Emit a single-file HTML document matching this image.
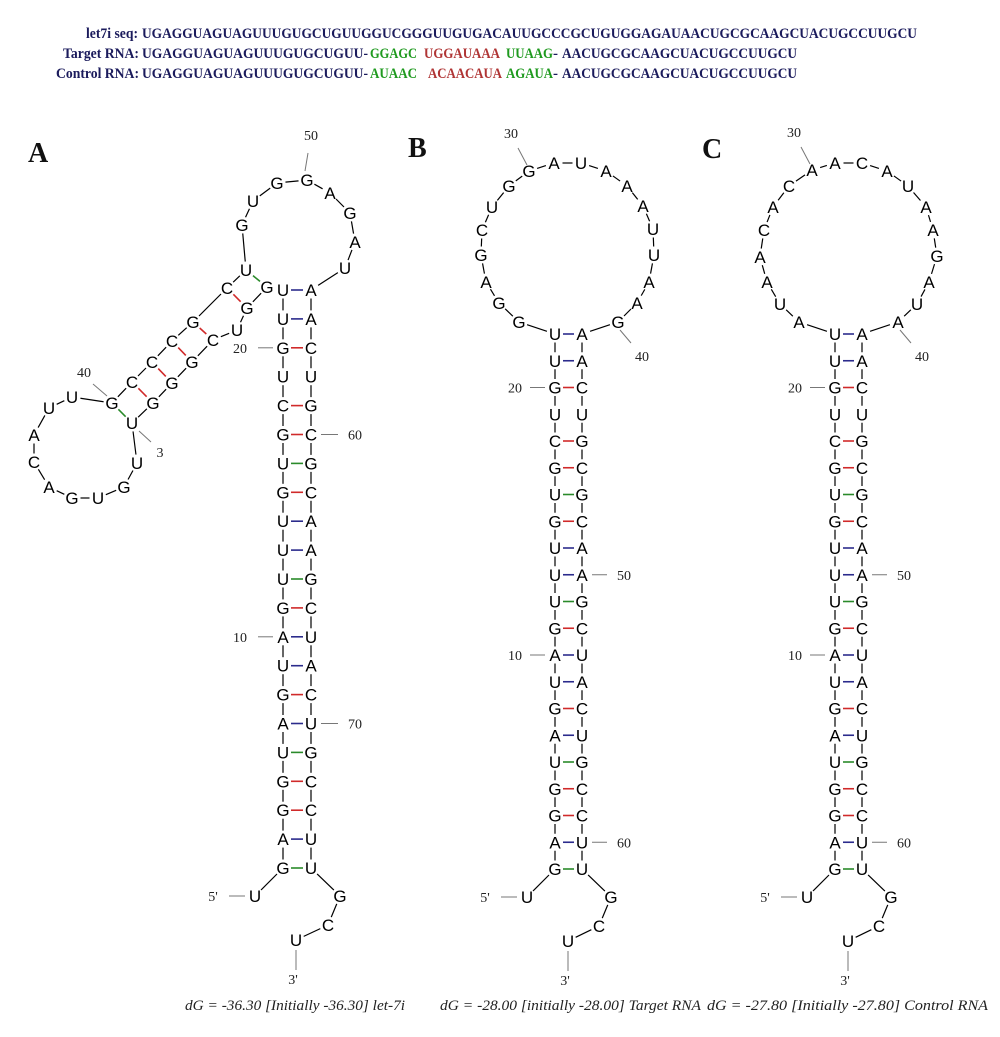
<!DOCTYPE html>
<html><head><meta charset="utf-8">
<style>
html,body{margin:0;padding:0;background:#fff;}
svg{display:block;}
.nt{font-family:"Liberation Sans",Arial,sans-serif;font-size:17px;fill:#000;text-anchor:middle;}
.num{font-family:"Liberation Serif",serif;font-size:14px;fill:#222;text-anchor:middle;}
.hd{font-family:"Liberation Serif",serif;font-size:15px;font-weight:bold;fill:#1b1b5c;}
.g{fill:#1f9a1f}.r{fill:#b03535}
.dg{font-family:"Liberation Serif",serif;font-size:15px;font-style:italic;fill:#222;}
.pl{font-family:"Liberation Serif",serif;font-size:28px;font-weight:bold;fill:#111;}
</style></head><body>
<svg id="s" width="1000" height="1037" viewBox="0 0 1000 1037" xmlns="http://www.w3.org/2000/svg">
<text class="hd" x="86" y="38" textLength="52" lengthAdjust="spacingAndGlyphs">let7i seq:</text>
<text class="hd" x="142" y="38" textLength="775" lengthAdjust="spacingAndGlyphs">UGAGGUAGUAGUUUGUGCUGUUGGUCGGGUUGUGACAUUGCCCGCUGUGGAGAUAACUGCGCAAGCUACUGCCUUGCU</text>
<text class="hd" x="63" y="58" textLength="76" lengthAdjust="spacingAndGlyphs">Target RNA:</text>
<text class="hd" x="142" y="58" textLength="226" lengthAdjust="spacingAndGlyphs">UGAGGUAGUAGUUUGUGCUGUU-</text>
<text class="hd g" x="370" y="58" textLength="47" lengthAdjust="spacingAndGlyphs">GGAGC</text>
<text class="hd r" x="424" y="58" textLength="76" lengthAdjust="spacingAndGlyphs">UGGAUAAA</text>
<text class="hd g" x="506" y="58" textLength="47" lengthAdjust="spacingAndGlyphs">UUAAG</text>
<text class="hd" x="553" y="58">-</text>
<text class="hd" x="562" y="58" textLength="235" lengthAdjust="spacingAndGlyphs">AACUGCGCAAGCUACUGCCUUGCU</text>
<text class="hd" x="56" y="78" textLength="83" lengthAdjust="spacingAndGlyphs">Control RNA:</text>
<text class="hd" x="142" y="78" textLength="226" lengthAdjust="spacingAndGlyphs">UGAGGUAGUAGUUUGUGCUGUU-</text>
<text class="hd g" x="370" y="78" textLength="47" lengthAdjust="spacingAndGlyphs">AUAAC</text>
<text class="hd r" x="428" y="78" textLength="74" lengthAdjust="spacingAndGlyphs">ACAACAUA</text>
<text class="hd g" x="506" y="78" textLength="47" lengthAdjust="spacingAndGlyphs">AGAUA</text>
<text class="hd" x="553" y="78">-</text>
<text class="hd" x="562" y="78" textLength="235" lengthAdjust="spacingAndGlyphs">AACUGCGCAAGCUACUGCCUUGCU</text>

<text class="pl" x="28" y="162">A</text>
<text class="pl" x="408" y="157">B</text>
<text class="pl" x="702" y="158">C</text>

<text class="dg" x="185" y="1010" textLength="220" lengthAdjust="spacingAndGlyphs">dG = -36.30 [Initially -36.30] let-7i</text>
<text class="dg" x="440" y="1010" textLength="261" lengthAdjust="spacingAndGlyphs">dG = -28.00 [initially -28.00] Target RNA</text>
<text class="dg" x="707" y="1010" textLength="281" lengthAdjust="spacingAndGlyphs">dG = -27.80 [Initially -27.80] Control RNA</text>
<g id="g"></g>
</svg>
<script>
var NS="http://www.w3.org/2000/svg",G=document.getElementById("g");
function el(t,a,txt){var e=document.createElementNS(NS,t);for(var k in a)e.setAttribute(k,a[k]);if(txt!==undefined)e.textContent=txt;G.appendChild(e);return e;}
function seg(a,b,col,sh,w){var dx=b[0]-a[0],dy=b[1]-a[1],d=Math.sqrt(dx*dx+dy*dy);if(d<2*sh+1)return;var ux=dx/d,uy=dy/d;
el("line",{x1:a[0]+ux*sh,y1:a[1]+uy*sh,x2:b[0]-ux*sh,y2:b[1]-uy*sh,stroke:col,"stroke-width":w||1.3});}
var PC={"AU":"#2b2b8c","UA":"#2b2b8c","GC":"#d02a2a","CG":"#d02a2a","GU":"#2a8a2a","UG":"#2a8a2a"};
var leftS="UUGUCGUGUUUGAUGAUGGAG",rightS="AACUGCGCAAGCUACUGCCUU";
function panel(L,R,top,sp,loop,labels,extra){
 var nts=[],pairs=[];
 var r20=top+20*sp;
 nts.push(["U",L-28,r20+28]);
 for(var i=20;i>=0;i--)nts.push([leftS[i],L,top+i*sp]);
 for(var j=0;j<loop.length;j++)nts.push(loop[j]);
 for(var i=0;i<=20;i++)nts.push([rightS[i],R,top+i*sp]);
 nts.push(["G",R+29,r20+28]);nts.push(["C",R+17,r20+57]);nts.push(["U",L+13,r20+72]);
 for(var i=0;i<=20;i++){var c=PC[leftS[i]+rightS[i]];if(c)el("line",{x1:L+8,y1:top+i*sp,x2:R-8,y2:top+i*sp,stroke:c,"stroke-width":1.6});}
 if(extra)extra.forEach(function(p){seg(p[0],p[1],p[2],9,1.6);});
 for(var k=0;k+1<nts.length;k++)seg([nts[k][1],nts[k][2]],[nts[k+1][1],nts[k+1][2]],"#000",8.5,1.2);
 var u3=nts[nts.length-1];
 el("line",{x1:u3[1],y1:u3[2]+10,x2:u3[1],y2:u3[2]+30,stroke:"#777","stroke-width":1});
 el("text",{class:"num",x:u3[1]-3,y:u3[2]+44},"3'");
 el("line",{x1:L-54,y1:r20+28,x2:L-38,y2:r20+28,stroke:"#777","stroke-width":1});
 el("text",{class:"num",x:L-70,y:r20+33},"5'");
 nts.forEach(function(n){el("text",{class:"nt",x:n[1],y:n[2]+6},n[0]);});
 labels.forEach(function(l){el("line",{x1:l[0],y1:l[1],x2:l[2],y2:l[3],stroke:"#777","stroke-width":1});el("text",{class:"num",x:l[4],y:l[5]+5},l[6]);});
}
var LA=283,RA=311,TA=290,SA=28.9;
var loopA=[["G",267,287],["G",247,308],["U",237,330],["C",213,340],["G",192,362],["G",172,383],["G",153,403],["U",132,423],
["U",137,463],["G",124,487],["U",98,498],["G",72,498],["A",49,487],["C",34,462],["A",34,435],["U",49,408],["U",72,397],
["G",112,403],["C",132,382],["C",152,362],["C",172,341],["G",193,322],["C",227,288],["U",246,270],
["G",242,225],["U",253,201],["G",277,183],["G",307,180],["A",330,193],["G",350,213],["A",355,242],["U",345,268]];
var exA=[[[246,270],[267,287],"#2a8a2a"],[[227,288],[247,308],"#d02a2a"],[[193,322],[213,340],"#d02a2a"],[[172,341],[192,362],"#d02a2a"],[[152,362],[172,383],"#d02a2a"],[[132,382],[153,403],"#d02a2a"],[[112,403],[132,423],"#2a8a2a"]];
panel(LA,RA,TA,SA,loopA,[
 [258,TA+2*SA,273,TA+2*SA,240,TA+2*SA,"20"],
 [321,TA+5*SA,338,TA+5*SA,355,TA+5*SA,"60"],
 [258,TA+12*SA,273,TA+12*SA,240,TA+12*SA,"10"],
 [321,TA+15*SA,338,TA+15*SA,355,TA+15*SA,"70"],
 [308,153,305,171,311,135,"50"],
 [93,384,107,396,84,372,"40"],
 [139,431,151,442,160,452,"3"]],exA);
var SB=26.75,TB=334;
var loopB=[["G",519,322],["G",499,303],["A",486,282],["G",481,255],["C",482,230],["U",492,207],["G",509,186],["G",529,171],["A",554,163],["U",581,163],["A",606,171],["A",627,186],["A",643,206],["U",653,229],["U",654,255],["A",649,282],["A",637,303],["G",618,322]];
function lbl(L,R,T,S,lp){return [
 [L-25,T+2*S,L-10,T+2*S,L-40,T+2*S,"20"],
 [R+10,T+9*S,R+25,T+9*S,R+42,T+9*S,"50"],
 [L-25,T+12*S,L-10,T+12*S,L-40,T+12*S,"10"],
 [R+10,T+19*S,R+25,T+19*S,R+42,T+19*S,"60"],
 [lp[0][0]-11,lp[0][1]-23,lp[0][0]-2,lp[0][1]-6,lp[0][0]-18,lp[0][1]-38,"30"],
 [lp[1][0]+2,lp[1][1]+8,lp[1][0]+13,lp[1][1]+21,lp[1][0]+24,lp[1][1]+34,"40"]];}
panel(555,582,TB,SB,loopB,lbl(555,582,TB,SB,[[529,171],[618,322]]));
var loopC=[["A",799,322],["U",780,304],["A",767,282],["A",760,257],["C",764,230],["A",773,207],["C",789,186],["A",812,170],["A",835,163],["C",862,163],["A",887,171],["U",908,186],["A",926,207],["A",933,230],["G",937,256],["A",929,282],["U",917,304],["A",898,322]];
panel(835,862,TB,SB,loopC,lbl(835,862,TB,SB,[[812,170],[898,322]]));
</script>
</body></html>
